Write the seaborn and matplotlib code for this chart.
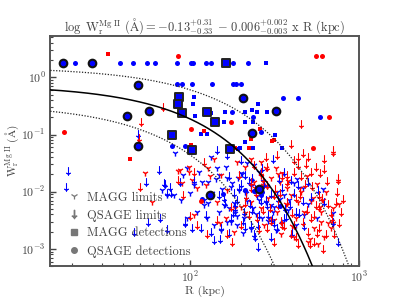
import numpy as np
import pandas as pd
import matplotlib.pyplot as plt
import seaborn as sns
from matplotlib.lines import Line2D

# Fit parameters (from the title)
fit_a, fit_a_up, fit_a_lo = -0.13, 0.31, 0.33
fit_b, fit_b_up, fit_b_lo = -0.006, 0.002, 0.003

# ---- detections (R in kpc, W in Angstrom) ----
qsage_blue_R = [20.7, 38.2, 45.6, 55.7, 61.4, 83.2, 101, 103, 123, 133, 179, 221,
                83.3, 89.2, 102, 134, 180, 186, 199, 353, 435, 177, 234, 584, 262,
                77.8, 93.4, 156, 239, 261, 117, 267, 342, 210]
qsage_blue_W = [1.8, 1.8, 1.8, 1.8, 1.8, 1.8, 1.8, 1.8, 1.8, 1.8, 1.8, 1.8,
                0.76, 0.76, 0.76, 0.76, 0.76, 0.76, 0.76, 0.44, 0.44, 0.25, 0.205, 0.205, 0.11,
                0.064, 0.064, 0.009, 0.0103, 0.0088, 0.0075, 0.0098, 0.0057, 0.0105]
qsage_blue_hl_R = [17.7, 26, 49, 57, 42, 48.7, 204, 321, 231, 130, 256]
qsage_blue_hl_W = [1.8, 1.8, 0.747, 0.253, 0.207, 0.064, 0.44, 0.26, 0.108, 0.0088, 0.0112]
qsage_red_R = [84, 555, 600, 17.9, 175, 101, 666, 530, 116]
qsage_red_W = [2.36, 2.38, 2.38, 0.11, 0.165, 0.127, 0.205, 0.057, 0.0068]

magg_blue_R = [282, 105, 103, 253, 133, 160, 212, 231, 249, 283, 158, 212, 236,
               106, 115, 126, 316, 235, 348, 191, 212, 198, 226]
magg_blue_W = [1.8, 0.45, 0.345, 0.345, 0.24, 0.243, 0.243, 0.264, 0.25, 0.243, 0.165, 0.165, 0.165,
               0.21, 0.104, 0.104, 0.1, 0.057, 0.057, 0.055, 0.074, 0.057, 0.101]
magg_blue_hl_R = [162, 86, 84, 89, 126, 140, 78, 102, 172]
magg_blue_hl_W = [1.8, 0.45, 0.345, 0.24, 0.243, 0.165, 0.1, 0.053, 0.056]
magg_red_R = [32.5, 44, 101, 120, 259, 230, 303, 312, 223, 185]
magg_red_W = [2.6, 0.037, 0.065, 0.114, 0.123, 0.082, 0.076, 0.079, 0.059, 0.057]

# ---- upper limits ----
magg_lim_blue_R = [81.5, 95.6, 72.6, 79.5, 100, 120, 144, 162, 165, 177, 181, 185, 199, 228,
                   255, 279, 132, 147, 218, 238, 117, 105, 91, 173, 207, 313, 359, 412, 462,
                   128, 147, 68, 88, 110, 125, 138, 152, 170, 190, 205, 215, 245, 262, 290,
                   320, 340, 380, 420, 500, 560, 610, 700, 155, 112, 96, 128, 230, 270, 195,
                   142, 158, 175, 188, 202, 212, 228, 236, 248, 265, 285, 300, 325, 350, 385,
                   430, 470, 165, 192, 218, 255, 310, 135, 120]
magg_lim_blue_W = [0.0466, 0.0255, 0.0088, 0.0088, 0.0094, 0.0072, 0.0255, 0.0272, 0.0171, 0.014,
                   0.0063, 0.0042, 0.0209, 0.016, 0.0072, 0.0067, 0.0406, 0.0195, 0.0312, 0.0291,
                   0.0149, 0.0131, 0.0195, 0.003, 0.0034, 0.0055, 0.0088, 0.014, 0.0115, 0.0063,
                   0.0045, 0.0105, 0.0072, 0.0045, 0.0034, 0.0026, 0.0021, 0.0052, 0.0026, 0.0019,
                   0.0095, 0.0041, 0.0115, 0.0031, 0.0021, 0.0075, 0.0048, 0.0026, 0.0062, 0.0035,
                   0.011, 0.0042, 0.011, 0.022, 0.0035, 0.0145, 0.0022, 0.0155, 0.0108,
                   0.0165, 0.0058, 0.0122, 0.0038, 0.0205, 0.0098, 0.0125, 0.0052, 0.0085, 0.0035,
                   0.0128, 0.0059, 0.0098, 0.0028, 0.0072, 0.0165, 0.0039, 0.0029, 0.0175, 0.0069,
                   0.0225, 0.0044, 0.0095, 0.0058]
qsage_lim_blue_R = [18.9, 18.3, 49.2, 54.5, 71, 73, 66, 73, 56, 46.4, 102, 93, 77,
                    64.8, 69.4, 76, 93, 115, 138, 151, 173, 181, 190, 207, 228, 238, 169, 132, 123,
                    199, 165, 144, 307, 359, 394, 432, 462, 495, 567, 621, 697, 746, 421, 359, 328,
                    286, 255, 212, 233, 267, 147, 105, 87, 250, 300, 185, 160,
                    185, 195, 205, 215, 222, 232, 242, 252, 262, 275, 288, 300, 312, 330, 350,
                    370, 390, 410, 440, 470, 520, 200, 210, 225, 240, 258, 280, 305, 335, 365,
                    400, 180, 170, 158, 150]
qsage_lim_blue_W = [0.0232, 0.0122, 0.104, 0.0149, 0.0134, 0.0096, 0.0035, 0.0022, 0.0029, 0.002,
                    0.0023, 0.003, 0.0094, 0.0238, 0.014, 0.0122, 0.0028, 0.0023, 0.00145, 0.0023,
                    0.0034, 0.0094, 0.0072, 0.0045, 0.0026, 0.0018, 0.0019, 0.002, 0.0039, 0.0356,
                    0.0435, 0.053, 0.0379, 0.0223, 0.016, 0.0131, 0.0068, 0.0149, 0.0107, 0.0067,
                    0.003, 0.0013, 0.0045, 0.0034, 0.0023, 0.0059, 0.0039, 0.0195, 0.0171, 0.0255,
                    0.0088, 0.016, 0.0149, 0.0011, 0.0016, 0.0052, 0.0064,
                    0.0062, 0.0118, 0.0031, 0.0085, 0.0155, 0.0048, 0.0112, 0.0026, 0.0069, 0.0135,
                    0.0039, 0.0092, 0.0028, 0.0074, 0.0115, 0.0036, 0.0058, 0.0095, 0.0042, 0.0025,
                    0.0082, 0.0135, 0.0024, 0.0061, 0.0016, 0.0105, 0.0072, 0.0033, 0.0165, 0.0052,
                    0.0019, 0.0043, 0.0185, 0.0079, 0.0015]
qsage_lim_red_R = [68.9, 51.3, 49.5, 49.2, 50.4, 452, 397, 703, 499, 432, 484, 555, 617, 747,
                   412, 409, 697, 747, 728, 681, 637, 608, 542, 495, 518, 555, 580, 518, 376,
                   351, 394, 432, 313, 286, 249, 222, 199, 177, 165, 144, 126, 110, 100, 91, 85,
                   105, 120, 261, 286, 313, 228, 212, 173, 376, 432, 621, 462, 328, 279, 238,
                   194, 462, 412, 580, 340, 270, 800, 760,
                   245, 268, 295, 318, 345, 372, 398, 425, 455, 488, 525, 560, 600, 645, 690,
                   735, 780, 255, 285, 330, 360, 420, 480, 540, 590, 650, 710, 300, 350, 445,
                   510, 575, 230, 215]
qsage_lim_red_W = [0.301, 0.163, 0.0883, 0.0711, 0.0122, 0.15, 0.0676, 0.0497, 0.0406, 0.04,
                   0.031, 0.0272, 0.0245, 0.016, 0.0356, 0.0223, 0.053, 0.0171, 0.0067, 0.0042,
                   0.0018, 0.001, 0.0013, 0.002, 0.0034, 0.0059, 0.0088, 0.0223, 0.0067, 0.0026,
                   0.0018, 0.0012, 0.0013, 0.0023, 0.0034, 0.0039, 0.0026, 0.0013, 0.0018, 0.0032,
                   0.0018, 0.0026, 0.0037, 0.0088, 0.016, 0.0223, 0.033, 0.0223, 0.0131, 0.0088,
                   0.0115, 0.0063, 0.0055, 0.0195, 0.0291, 0.0379, 0.0466, 0.0435, 0.0406, 0.0291,
                   0.0195, 0.003, 0.0026, 0.0023, 0.0095, 0.0048, 0.0075, 0.0028,
                   0.0095, 0.0165, 0.0052, 0.0112, 0.0031, 0.0145, 0.0042, 0.0078, 0.0185, 0.0048,
                   0.0125, 0.0019, 0.0078, 0.0152, 0.0035, 0.0098, 0.0045, 0.0022, 0.0275, 0.0058,
                   0.0025, 0.0016, 0.0135, 0.0039, 0.0215, 0.0062, 0.0018, 0.0031, 0.0185, 0.0088,
                   0.0012, 0.0055, 0.0145, 0.0085]
magg_lim_red_R = [53.7, 59.1, 85, 97.7, 89, 87, 97.7, 102, 128, 138, 190, 212, 228, 261, 279,
                  299, 320, 351, 394, 452, 518, 594, 650, 542, 473, 432, 328, 292, 261, 228,
                  199, 181, 162, 144, 123, 110, 105, 343, 412, 495, 567, 621, 594, 681, 697,
                  376, 271, 238, 165, 151,
                  240, 262, 290, 315, 340, 368, 400, 445, 490, 535, 585, 640, 700, 760, 210,
                  185, 275, 330, 380, 425, 510, 560, 610, 150, 130]
magg_lim_red_W = [0.0209, 0.0067, 0.0229, 0.0266, 0.014, 0.0238, 0.0223, 0.016, 0.0255, 0.0379,
                  0.033, 0.0272, 0.0379, 0.033, 0.0255, 0.0171, 0.0255, 0.0209, 0.0088, 0.0099,
                  0.0068, 0.0045, 0.0028, 0.0023, 0.0045, 0.0067, 0.0045, 0.0034, 0.0052, 0.0067,
                  0.0055, 0.002, 0.0034, 0.0067, 0.0131, 0.0115, 0.0039, 0.0018, 0.0016, 0.0013,
                  0.0012, 0.0016, 0.003, 0.0023, 0.0052, 0.0115, 0.0131, 0.0149, 0.0107, 0.0195,
                  0.0115, 0.0185, 0.0078, 0.0032, 0.0145, 0.0062, 0.0025, 0.0115, 0.0185, 0.0079,
                  0.0055, 0.0098, 0.0028, 0.0062, 0.0042, 0.0052, 0.0026, 0.0205, 0.0155, 0.0035,
                  0.0015, 0.0135, 0.0072, 0.0028, 0.0185]

BLUE = "#0000ff"
RED = "#ff0000"
GREY = "#444444"

sns.set_theme(style="white")
plt.rcParams["font.family"] = ["cmr10", "DejaVu Serif"]
plt.rcParams["mathtext.fontset"] = "cm"
plt.rcParams["axes.formatter.use_mathtext"] = True
plt.rcParams["axes.unicode_minus"] = False

fig, ax = plt.subplots(figsize=(3.99, 2.99), dpi=100)
fig.subplots_adjust(left=0.125, right=0.9, top=0.88, bottom=0.11)


def scatter(R, W, **kw):
    df = pd.DataFrame({"R": R, "W": W})
    sns.scatterplot(data=df, x="R", y="W", ax=ax, legend=False, **kw)


# limits first
scatter(magg_lim_blue_R, magg_lim_blue_W, marker="1", color=BLUE, s=20, linewidth=1.0, zorder=2)
scatter(magg_lim_red_R, magg_lim_red_W, marker="1", color=RED, s=20, linewidth=1.0, zorder=2)
scatter(qsage_lim_blue_R, qsage_lim_blue_W, marker=r"$\downarrow$", color=BLUE, edgecolor=BLUE,
        s=34, linewidth=0.5, zorder=2)
scatter(qsage_lim_red_R, qsage_lim_red_W, marker=r"$\downarrow$", color=RED, edgecolor=RED,
        s=34, linewidth=0.5, zorder=2)

# detections
scatter(magg_blue_R, magg_blue_W, marker="s", color=BLUE, edgecolor=BLUE, s=12, linewidth=0, zorder=3)
scatter(magg_red_R, magg_red_W, marker="s", color=RED, edgecolor=RED, s=12, linewidth=0, zorder=3)
scatter(qsage_blue_R, qsage_blue_W, marker="o", color=BLUE, edgecolor=BLUE, s=13, linewidth=0, zorder=3)
scatter(qsage_red_R, qsage_red_W, marker="o", color=RED, edgecolor=RED, s=13, linewidth=0, zorder=3)
scatter(magg_blue_hl_R, magg_blue_hl_W, marker="s", color=BLUE, edgecolor="#222222", s=28,
        linewidth=1.4, zorder=4)
scatter(qsage_blue_hl_R, qsage_blue_hl_W, marker="o", color=BLUE, edgecolor="#111111", s=30,
        linewidth=1.5, zorder=4)

# fit line and envelope
R_line = np.linspace(10, 1100, 600)
sns.lineplot(x=R_line, y=10 ** (fit_a + fit_b * R_line), ax=ax, color="black", lw=1.1, zorder=5)
sns.lineplot(x=R_line, y=10 ** ((fit_a + fit_a_up) + (fit_b + fit_b_up) * R_line), ax=ax,
             color="#222222", lw=0.9, ls=(0, (1, 1.3)), zorder=5)
sns.lineplot(x=R_line, y=10 ** ((fit_a - fit_a_lo) + (fit_b - fit_b_lo) * R_line), ax=ax,
             color="#222222", lw=0.9, ls=(0, (1, 1.3)), zorder=5)

ax.set_xscale("log")
ax.set_yscale("log")
ax.set_xlim(14.7, 1000)
ax.set_ylim(5e-4, 5.3)

ax.tick_params(which="both", direction="in", colors=GREY, labelsize=8.5, top=False, right=False,
               left=True, bottom=True)
ax.tick_params(which="major", length=4, width=1, pad=3)
ax.tick_params(which="minor", length=2.2, width=0.8)
for sp in ax.spines.values():
    sp.set_color("#555555")
    sp.set_linewidth(1.4)

ax.set_xlabel("R (kpc)", color=GREY, fontsize=8.5, labelpad=0)
ax.set_ylabel(r"$\mathrm{W_r^{Mg\ II}\ (\AA)}$", color=GREY, fontsize=8)
ax.yaxis.set_label_coords(-0.092, 0.5)
ax.set_title(r"$\log\ \mathrm{W_r^{Mg\ II}\ (\AA)} = -0.13^{+0.31}_{-0.33}\,-\,0.006^{+0.002}_{-0.003}$"
             r" x R (kpc)", color=GREY, fontsize=9, pad=4)

handles = [
    Line2D([], [], ls="", marker="1", color="#777777", ms=5, mew=0.9),
    Line2D([], [], ls="", marker=r"$\downarrow$", color="#777777", ms=6),
    Line2D([], [], ls="", marker="s", color="#777777", ms=4),
    Line2D([], [], ls="", marker="o", color="#777777", ms=4),
]
labels = ["MAGG limits", "QSAGE limits", "MAGG detections", "QSAGE detections"]
leg = ax.legend(handles, labels, loc="lower left", bbox_to_anchor=(0.02, -0.012), frameon=False,
                fontsize=9, handlelength=1.0, handletextpad=0.6, labelspacing=0.45)
for t in leg.get_texts():
    t.set_color(GREY)

fig.savefig("out.png", dpi=100)
